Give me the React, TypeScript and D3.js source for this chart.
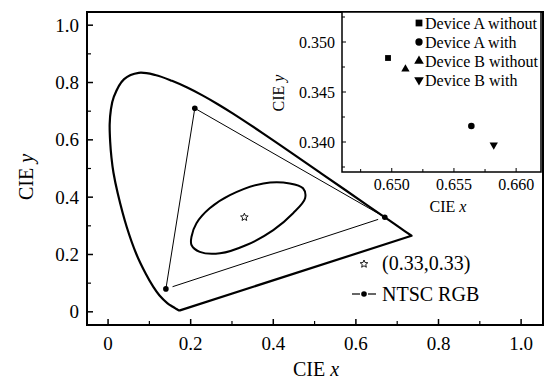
import * as d3 from 'd3'

type Pt = { x: number; y: number }

// CIE 1931 spectral locus (380 nm -> 700 nm), closed by the purple line
const locusPoints: Pt[] = [
  { x: 0.1741, y: 0.005 },
  { x: 0.1714, y: 0.0051 },
  { x: 0.1644, y: 0.0109 },
  { x: 0.1566, y: 0.0177 },
  { x: 0.144, y: 0.0297 },
  { x: 0.1241, y: 0.0578 },
  { x: 0.1096, y: 0.0868 },
  { x: 0.0913, y: 0.1327 },
  { x: 0.0687, y: 0.2007 },
  { x: 0.0454, y: 0.295 },
  { x: 0.0235, y: 0.4127 },
  { x: 0.0131, y: 0.485 },
  { x: 0.0082, y: 0.5384 },
  { x: 0.0051, y: 0.5933 },
  { x: 0.0039, y: 0.6548 },
  { x: 0.0068, y: 0.705 },
  { x: 0.0139, y: 0.7502 },
  { x: 0.0389, y: 0.812 },
  { x: 0.0743, y: 0.8338 },
  { x: 0.1142, y: 0.8262 },
  { x: 0.1547, y: 0.8059 },
  { x: 0.1929, y: 0.7816 },
  { x: 0.2296, y: 0.7543 },
  { x: 0.2658, y: 0.7243 },
  { x: 0.3016, y: 0.6923 },
  { x: 0.3731, y: 0.6245 },
  { x: 0.4441, y: 0.5547 },
  { x: 0.5125, y: 0.4866 },
  { x: 0.5752, y: 0.4242 },
  { x: 0.627, y: 0.3725 },
  { x: 0.6658, y: 0.334 },
  { x: 0.6915, y: 0.3083 },
  { x: 0.719, y: 0.2809 },
  { x: 0.7347, y: 0.2653 },
]

// closed contour around the white point
const ellipsePoints: Pt[] = [
  { x: 0.202, y: 0.262 },
  { x: 0.214, y: 0.309 },
  { x: 0.246, y: 0.361 },
  { x: 0.295, y: 0.407 },
  { x: 0.376, y: 0.448 },
  { x: 0.44, y: 0.448 },
  { x: 0.472, y: 0.431 },
  { x: 0.477, y: 0.396 },
  { x: 0.448, y: 0.344 },
  { x: 0.4, y: 0.285 },
  { x: 0.335, y: 0.233 },
  { x: 0.271, y: 0.204 },
  { x: 0.222, y: 0.209 },
  { x: 0.202, y: 0.233 },
]

const whitePoint: Pt = { x: 0.33, y: 0.33 }

// NTSC primaries R, G, B
const ntscPoints: Pt[] = [
  { x: 0.67, y: 0.33 },
  { x: 0.21, y: 0.71 },
  { x: 0.14, y: 0.08 },
]

const mainTicks = [0, 0.2, 0.4, 0.6, 0.8, 1.0]
const mainTickLabels = ['0', '0.2', '0.4', '0.6', '0.8', '1.0']
const mainMinorTicks = [0.1, 0.3, 0.5, 0.7, 0.9]

const deviceNames = ['Device A without', 'Device A with', 'Device B without', 'Device B with']
const deviceX = [0.6497, 0.6564, 0.6511, 0.6582]
const deviceY = [0.3484, 0.3416, 0.3473, 0.3397]
const deviceSymbols = ['square', 'circle', 'triangle', 'triangleDown']

const insetXTicks = [0.65, 0.655, 0.66]
const insetXTickLabels = ['0.650', '0.655', '0.660']
const insetXMinor = [0.6475, 0.6525, 0.6575, 0.6625]
const insetYTicks = [0.34, 0.345, 0.35]
const insetYTickLabels = ['0.340', '0.345', '0.350']
const insetYMinor = [0.3375, 0.3425, 0.3475, 0.3525]

const font = '"Liberation Serif", "Times New Roman", serif'

function symbolPath(kind: string, size: number): string {
  const type =
    kind === 'square'
      ? d3.symbolSquare
      : kind === 'circle'
        ? d3.symbolCircle
        : d3.symbolTriangle
  return d3.symbol().type(type).size(size)() ?? ''
}

function Marker({ kind, cx, cy, size }: { kind: string; cx: number; cy: number; size: number }) {
  const rotate = kind === 'triangleDown' ? 180 : 0
  return (
    <path
      d={symbolPath(kind, size)}
      transform={`translate(${cx},${cy}) rotate(${rotate})`}
      fill="#000"
    />
  )
}

function Star({ cx, cy, r }: { cx: number; cy: number; r: number }) {
  const pts = d3.range(10).map((i) => {
    const a = (Math.PI / 5) * i - Math.PI / 2
    const rr = i % 2 === 0 ? r : r * 0.45
    return [cx + rr * Math.cos(a), cy + rr * Math.sin(a)]
  })
  return <polygon points={pts.map((p) => p.join(',')).join(' ')} fill="none" stroke="#000" strokeWidth="0.9" />
}

function Inset() {
  const left = 342
  const right = 541
  const top = 12
  const bottom = 172
  const x = d3.scaleLinear().domain([0.646, 0.662]).range([left, right])
  const y = d3.scaleLinear().domain([0.337, 0.353]).range([bottom, top])

  return (
    <g fontFamily={font}>
      <rect x={left} y={top} width={right - left} height={bottom - top} fill="#fff" stroke="#000" strokeWidth="1.5" />

      {insetXTicks.map((t, i) => (
        <g key={`ix${t}`} transform={`translate(${x(t)},0)`}>
          <line y1={bottom} y2={bottom - 4} stroke="#000" strokeWidth="1" />
          <text y={190} textAnchor="middle" fontSize="16">
            {insetXTickLabels[i]}
          </text>
        </g>
      ))}
      {insetXMinor.filter((t) => x(t) > left && x(t) < right).map((t) => (
        <line key={`ixm${t}`} x1={x(t)} x2={x(t)} y1={bottom} y2={bottom - 3} stroke="#000" strokeWidth="1" />
      ))}

      {insetYTicks.map((t, i) => (
        <g key={`iy${t}`} transform={`translate(0,${y(t)})`}>
          <line x1={left} x2={left + 4} stroke="#000" strokeWidth="1" />
          <text x={left - 7} y={5.5} textAnchor="end" fontSize="16">
            {insetYTickLabels[i]}
          </text>
        </g>
      ))}
      {insetYMinor.filter((t) => y(t) > top && y(t) < bottom).map((t) => (
        <line key={`iym${t}`} x1={left} x2={left + 3} y1={y(t)} y2={y(t)} stroke="#000" strokeWidth="1" />
      ))}

      <text x={448} y={212} textAnchor="middle" fontSize="16">
        CIE <tspan fontStyle="italic">x</tspan>
      </text>
      <text transform="translate(284,93) rotate(-90)" textAnchor="middle" fontSize="16">
        CIE <tspan fontStyle="italic">y</tspan>
      </text>

      {deviceNames.map((name, i) => (
        <Marker
          key={`pt${name}`}
          kind={deviceSymbols[i]}
          cx={x(deviceX[i])}
          cy={y(deviceY[i])}
          size={deviceSymbols[i] === 'circle' ? 34 : deviceSymbols[i] === 'square' ? 34 : 30}
        />
      ))}

      {deviceNames.map((name, i) => {
        const cy = 23 + i * 19
        return (
          <g key={`lg${name}`}>
            <Marker
              kind={deviceSymbols[i]}
              cx={419}
              cy={cy}
              size={deviceSymbols[i] === 'square' ? 46 : deviceSymbols[i] === 'circle' ? 42 : 40}
            />
            <text x={425} y={cy + 5.5} fontSize="16">
              {name}
            </text>
          </g>
        )
      })}
    </g>
  )
}

export default function App() {
  const width = 549
  const height = 380
  const margin = { top: 12, right: 6, bottom: 55, left: 87 }
  const x = d3
    .scaleLinear()
    .domain([-0.051, 1.053])
    .range([margin.left, width - margin.right])
  const y = d3
    .scaleLinear()
    .domain([-0.046, 1.046])
    .range([height - margin.bottom, margin.top])

  const locusLine = d3
    .line<Pt>()
    .x((p) => x(p.x))
    .y((p) => y(p.y))
    .curve(d3.curveCatmullRom.alpha(0.5))
  const ellipseLine = d3
    .line<Pt>()
    .x((p) => x(p.x))
    .y((p) => y(p.y))
    .curve(d3.curveCatmullRomClosed)

  const [r, g, b] = ntscPoints.map((p) => [x(p.x), y(p.y)])
  // last segment of the triangle leaves a gap around the symbols
  const gap = 7
  const dx = r[0] - b[0]
  const dy = r[1] - b[1]
  const len = Math.hypot(dx, dy)
  const bStart = [b[0] + (dx / len) * gap, b[1] + (dy / len) * gap]
  const rEnd = [r[0] - (dx / len) * gap, r[1] - (dy / len) * gap]

  return (
    <svg
      width={width}
      height={height}
      viewBox={`0 0 ${width} ${height}`}
      style={{ position: 'absolute', left: 0, top: 0, background: '#fff' }}
      fontFamily={font}
    >
      <rect x={0} y={0} width={width} height={height} fill="#fff" />

      {/* spectral locus */}
      <path d={(locusLine(locusPoints) ?? '') + 'Z'} fill="none" stroke="#000" strokeWidth="2.2" strokeLinejoin="round" />

      {/* NTSC triangle */}
      <path d={`M${r[0]},${r[1]}L${g[0]},${g[1]}L${b[0]},${b[1]}`} fill="none" stroke="#000" strokeWidth="1" />
      <line x1={bStart[0]} y1={bStart[1]} x2={rEnd[0]} y2={rEnd[1]} stroke="#000" strokeWidth="1" />
      {ntscPoints.map((p) => (
        <circle key={`n${p.x}`} cx={x(p.x)} cy={y(p.y)} r={2.8} fill="#000" />
      ))}

      {/* contour around white point */}
      <path d={ellipseLine(ellipsePoints) ?? ''} fill="none" stroke="#000" strokeWidth="2" />
      <Star cx={x(whitePoint.x)} cy={y(whitePoint.y)} r={4} />

      {/* frame */}
      <rect
        x={margin.left}
        y={margin.top}
        width={width - margin.left - margin.right}
        height={height - margin.top - margin.bottom}
        fill="none"
        stroke="#000"
        strokeWidth="2"
      />

      {mainTicks.map((t, i) => (
        <g key={`x${t}`}>
          <line x1={x(t)} x2={x(t)} y1={height - margin.bottom} y2={height - margin.bottom - 6} stroke="#000" strokeWidth="1.5" />
          <text x={x(t)} y={350} textAnchor="middle" fontSize="19">
            {mainTickLabels[i]}
          </text>
          <line x1={margin.left} x2={margin.left + 6} y1={y(t)} y2={y(t)} stroke="#000" strokeWidth="1.5" />
          <text x={79} y={y(t) + 6.5} textAnchor="end" fontSize="19">
            {mainTickLabels[i]}
          </text>
        </g>
      ))}
      {mainMinorTicks.map((t) => (
        <g key={`m${t}`}>
          <line x1={x(t)} x2={x(t)} y1={height - margin.bottom} y2={height - margin.bottom - 4} stroke="#000" strokeWidth="1.2" />
          <line x1={margin.left} x2={margin.left + 4} y1={y(t)} y2={y(t)} stroke="#000" strokeWidth="1.2" />
        </g>
      ))}

      <text x={316} y={376} textAnchor="middle" fontSize="20">
        CIE <tspan fontStyle="italic">x</tspan>
      </text>
      <text transform="translate(33,177) rotate(-90)" textAnchor="middle" fontSize="20">
        CIE <tspan fontStyle="italic">y</tspan>
      </text>

      {/* legend */}
      <Star cx={364} cy={264} r={4} />
      <text x={382} y={270} fontSize="20">
        (0.33,0.33)
      </text>
      <line x1={352} x2={360} y1={294} y2={294} stroke="#000" strokeWidth="1.2" />
      <line x1={368} x2={376} y1={294} y2={294} stroke="#000" strokeWidth="1.2" />
      <circle cx={364} cy={294} r={2.8} fill="#000" />
      <text x={382} y={301} fontSize="20">
        NTSC RGB
      </text>

      <Inset />
    </svg>
  )
}
